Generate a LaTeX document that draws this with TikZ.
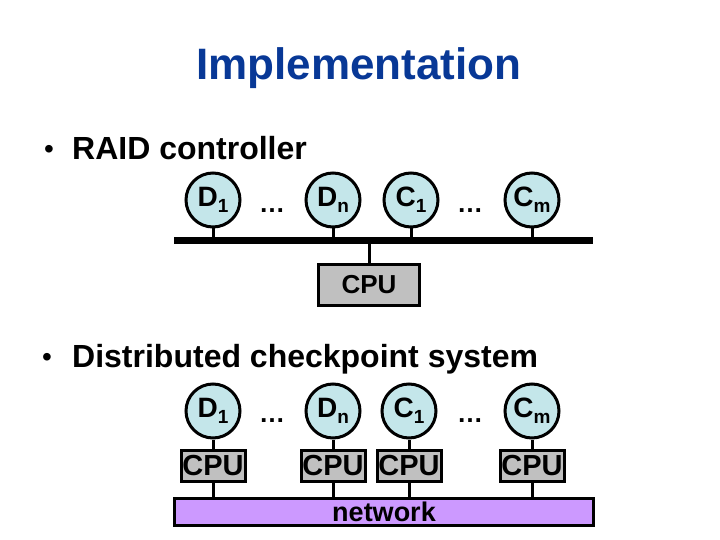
\documentclass[tikz,border=0pt]{standalone}
\usepackage{fontspec}
\setmainfont{Liberation Sans}
\usepackage{tikz}
\usetikzlibrary{positioning}
\definecolor{titleblue}{RGB}{8,56,150}
\definecolor{diskfill}{RGB}{196,230,234}
\definecolor{boxgray}{RGB}{192,192,192}
\definecolor{netpurple}{RGB}{204,153,255}
\newcommand{\lowidx}[1]{\raisebox{-6pt}{\fontsize{19}{19}\selectfont #1}}
\newcommand{\dska}{D\lowidx{1}}
\newcommand{\dskn}{D\lowidx{n}}
\newcommand{\chka}{C\lowidx{1}}
\newcommand{\chkm}{C\lowidx{m}}
\tikzset{
  disknode/.style={circle, draw, line width=3pt, fill=diskfill, minimum size=54pt,
    inner sep=0pt, font=\fontsize{28}{28}\selectfont\bfseries},
  cpubox/.style={rectangle, draw, line width=3pt, fill=boxgray, inner sep=0pt},
  stem/.style={line width=3pt},
  dotsnode/.style={font=\fontsize{26}{26}\selectfont\bfseries},
  itemtext/.style={anchor=base west, inner sep=0pt, font=\fontsize{32}{36}\selectfont\bfseries},
  bulletmark/.style={anchor=base, inner sep=0pt, font=\fontsize{28}{28}\selectfont}
}

\begin{document}
\begin{tikzpicture}[x=1pt, y=-1pt]
  \useasboundingbox (0,0) rectangle (720,540);

  % Title and items
  \node[text=titleblue, font=\fontsize{44}{48}\selectfont\bfseries] (title) at (359,68) {Implementation};
  \node[bulletmark] (bula) at (49,159) {\textbullet};
  \node[itemtext] (itema) at (72,160) {RAID controller};
  \node[bulletmark] (bulb) at (47,366) {\textbullet};
  \node[itemtext] (itemb) at (72,367) {Distributed checkpoint system};

  % RAID controller: disks on one bus
  \node[disknode] (da) at (213,200) {\dska};
  \node[dotsnode] (dta) at (272,211) {\dots};
  \node[disknode] (dn) at (333,200) {\dskn};
  \node[disknode] (ca) at (411,200) {\chka};
  \node[dotsnode] (dtb) at (470,211) {\dots};
  \node[disknode] (cm) at (532,200) {\chkm};
  \coordinate (busl) at (174,240);
  \coordinate (busr) at (593,240);
  \draw[line width=7pt] (busl) -- (busr);
  \node[cpubox, minimum width=101pt, minimum height=41pt,
    font=\fontsize{26}{26}\selectfont\bfseries] (cpu) at (369,285) {CPU};
  \foreach \n in {da,dn,ca,cm}
    \draw[stem] (\n.south) -- (\n.south |- busl);
  \draw[stem] (cpu.north) -- (cpu.north |- busl);

  % Distributed system: one CPU per disk, all on the network
  \node[disknode] (da2) at (213,411) {\dska};
  \node[dotsnode] (dta2) at (272,421) {\dots};
  \node[disknode] (dn2) at (333,411) {\dskn};
  \node[disknode] (ca2) at (409,411) {\chka};
  \node[dotsnode] (dtb2) at (470,421) {\dots};
  \node[disknode] (cm2) at (532,411) {\chkm};
  \node[cpubox, minimum width=419pt, minimum height=27pt, fill=netpurple,
    font=\fontsize{27}{27}\selectfont\bfseries] (net) at (384,512) {network};
  \foreach \n in {da2,dn2,ca2,cm2}{
    \node[cpubox, minimum width=64pt, minimum height=31pt,
      font=\fontsize{29}{29}\selectfont\bfseries, below=9pt of \n] (cpu\n) {CPU};
    \draw[stem] (\n.south) -- (cpu\n.north);
    \draw[stem] (cpu\n.south) -- (cpu\n.south |- net.north);
  }

\end{tikzpicture}
\end{document}
